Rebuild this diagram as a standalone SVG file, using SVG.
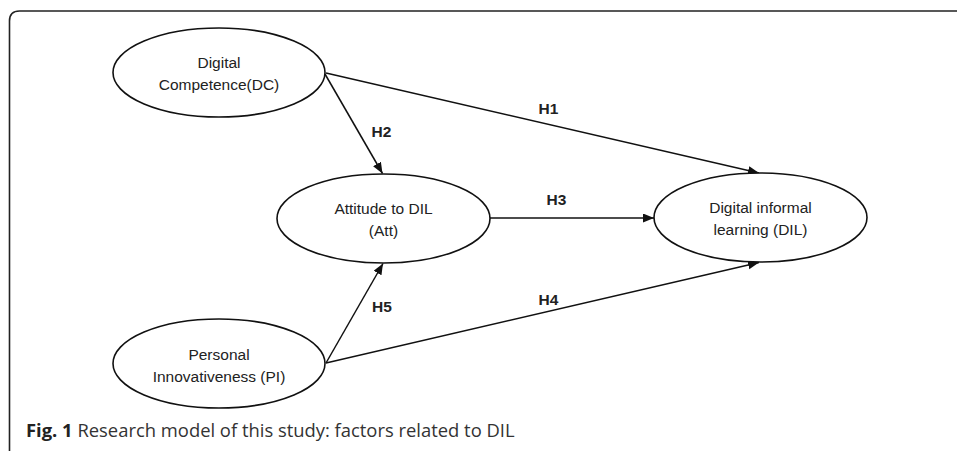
<svg xmlns="http://www.w3.org/2000/svg" width="957" height="451" viewBox="0 0 957 451">
<style>
.node ellipse{fill:#fff;stroke:#111;stroke-width:1.6}
.node text{font-family:"Liberation Sans",Arial,sans-serif;font-size:15.5px;fill:#222;text-anchor:middle}
.edges line{stroke:#111;stroke-width:1.5;marker-end:url(#arr)}
.lbl{font-family:"Liberation Sans",Arial,sans-serif;font-size:15.5px;font-weight:bold;fill:#222;text-anchor:middle}
.cap{font-family:"Open Sans","Liberation Sans",sans-serif;font-size:18.4px;fill:#333}
</style>
<defs>
<marker id="arr" markerUnits="userSpaceOnUse" markerWidth="12" markerHeight="10" refX="11" refY="4.5" orient="auto">
<path d="M0,0 L11,4.5 L0,9 Z" fill="#111"/>
</marker>
</defs>
<rect width="957" height="451" fill="#fff"/>
<path d="M9.5 451 V21 Q9.5 11 19.5 11 H957" fill="none" stroke="#222" stroke-width="1.6"/>
<g class="edges">
<line x1="325" y1="74" x2="382.5" y2="173.5"/>
<line x1="326" y1="73" x2="759" y2="173"/>
<line x1="490" y1="218" x2="654" y2="218"/>
<line x1="326" y1="363" x2="383" y2="263.5"/>
<line x1="326" y1="363" x2="759" y2="262.5"/>
<text class="lbl" x="548.5" y="114">H1</text>
<text class="lbl" x="381.5" y="137">H2</text>
<text class="lbl" x="556.5" y="205">H3</text>
<text class="lbl" x="548.5" y="305">H4</text>
<text class="lbl" x="382" y="312">H5</text>
</g>
<g id="dc" class="node">
<ellipse cx="219" cy="72.5" rx="106" ry="44.5"/>
<text x="219" y="68">Digital</text>
<text x="219" y="90">Competence(DC)</text>
</g>
<g id="att" class="node">
<ellipse cx="383.5" cy="218.5" rx="106.5" ry="44.5"/>
<text x="383.5" y="214">Attitude to DIL</text>
<text x="383.5" y="236">(Att)</text>
</g>
<g id="dil" class="node">
<ellipse cx="760.5" cy="217.5" rx="106.5" ry="44.5"/>
<text x="760.5" y="213">Digital informal</text>
<text x="760.5" y="235">learning (DIL)</text>
</g>
<g id="pi" class="node">
<ellipse cx="219" cy="363.5" rx="106" ry="44.5"/>
<text x="219" y="360">Personal</text>
<text x="219" y="382">Innovativeness (PI)</text>
</g>
<text class="cap" x="26" y="437"><tspan font-weight="bold" fill="#222">Fig. 1</tspan> Research model of this study: factors related to DIL</text>
</svg>
